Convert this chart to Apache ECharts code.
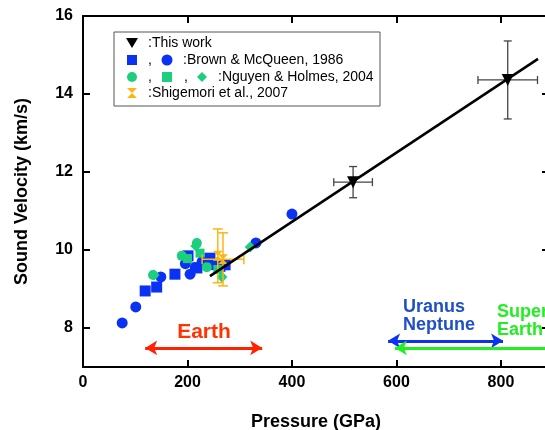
<!DOCTYPE html>
<html>
<head>
    <meta charset="utf-8"/>
    <title>Sound Velocity vs Pressure</title>
    <script src="https://cdn.jsdelivr.net/npm/echarts@6/dist/echarts.min.js"></script>
    <style>
        html, body { margin: 0; padding: 0; background: #fff; }
    </style>
</head>
<body>

<div id="main" style="width: 545px;height:430px;"></div>

<script>
    // data: [pressure GPa, velocity km/s]
    var thisWork = [[517, 11.74], [813, 14.36]];
    var thisWorkErrP = [37, 57];
    var thisWorkErrV = [0.4, 1.0];

    var bmSquares = [[119, 8.95], [141, 9.05], [176, 9.38], [201, 9.85], [218, 9.54], [243, 9.79], [262, 9.58], [272, 9.62]];
    var bmCircles = [[75, 8.13], [101, 8.54], [149, 9.31], [196, 9.65], [205, 9.38], [215, 9.55], [228, 9.7], [250, 9.62], [331, 10.18], [400, 10.92]];

    var nhCircles = [[134, 9.36], [189, 9.85], [218, 10.18], [237, 9.56]];
    var nhSquares = [[200, 9.78], [224, 9.92], [258, 9.5]];
    var nhDiamonds = [[136, 9.36], [216, 10.1], [266, 9.31], [320, 10.08]];

    var shigemori = [[258, 9.85], [268, 9.76]];
    var shigemoriErrP = [0, 40];
    var shigemoriErrV = [0.69, 0.68];

    var fitLine = [[243, 9.33], [871, 14.9]];

    var xTicks = [0, 200, 400, 600, 800];
    var yTicks = [8, 10, 12, 14, 16];

    // ranges of the planets (arrows)
    var earthRange = [[119, 7.49], [343, 7.49]];
    var iceRange = [[584, 7.67], [804, 7.67]];
    var superRange = [[597, 7.49], [892, 7.49]];

    var FONT = '"Liberation Sans", Arial, sans-serif';
    var BLUE = '#0a32f5';
    var GREEN = '#1ccf7e';
    var ORANGE = '#fdb515';
    var hourglass = 'path://M0,0 L10,0 L5,5 L10,10 L0,10 L5,5 Z';

    function errorBars(points, errP, errV, color, width, cap) {
        return {
            type: 'custom',
            silent: true,
            z: 3,
            data: points.map(function (p, i) { return [p[0], p[1], errP[i], errV[i]]; }),
            encode: { x: 0, y: 1 },
            renderItem: function (params, api) {
                var x = api.value(0), y = api.value(1), ex = api.value(2), ey = api.value(3);
                var style = { stroke: color, lineWidth: width };
                var kids = [];
                if (ey > 0) {
                    var t = api.coord([x, y + ey]), b = api.coord([x, y - ey]);
                    kids.push({ type: 'line', shape: { x1: t[0], y1: t[1], x2: b[0], y2: b[1] }, style: style });
                    kids.push({ type: 'line', shape: { x1: t[0] - cap, y1: t[1], x2: t[0] + cap, y2: t[1] }, style: style });
                    kids.push({ type: 'line', shape: { x1: b[0] - cap, y1: b[1], x2: b[0] + cap, y2: b[1] }, style: style });
                }
                if (ex > 0) {
                    var l = api.coord([x - ex, y]), r = api.coord([x + ex, y]);
                    kids.push({ type: 'line', shape: { x1: l[0], y1: l[1], x2: r[0], y2: r[1] }, style: style });
                    kids.push({ type: 'line', shape: { x1: l[0], y1: l[1] - cap, x2: l[0], y2: l[1] + cap }, style: style });
                    kids.push({ type: 'line', shape: { x1: r[0], y1: r[1] - cap, x2: r[0], y2: r[1] + cap }, style: style });
                }
                return { type: 'group', children: kids };
            }
        };
    }

    function rangeArrow(range, color, symbols) {
        return {
            type: 'line',
            data: [],
            silent: true,
            markLine: {
                silent: true,
                symbol: symbols,
                symbolSize: [11, 12],
                label: { show: false },
                lineStyle: { color: color, width: 3, type: 'solid' },
                data: [[{ coord: range[0] }, { coord: range[1] }]]
            }
        };
    }

    function scatter(data, symbol, size, color) {
        return {
            type: 'scatter', data: data, symbol: symbol, symbolSize: size,
            itemStyle: { color: color, opacity: 1 }, z: 2, silent: true
        };
    }

    var myChart = echarts.init(document.getElementById('main'));

    var axisBase = {
        axisLine: { show: true, onZero: false, lineStyle: { color: '#000', width: 2 } },
        axisTick: { show: true, inside: true, length: 7, lineStyle: { color: '#000', width: 2 } },
        splitLine: { show: false }
    };

    var legendRows = [43, 60, 77, 93];
    var legendText = [':This work', ':Brown & McQueen, 1986', ':Nguyen & Holmes, 2004', ':Shigemori et al., 2007'];
    var legendTextX = [148, 183, 218, 148];

    var graphics = [
        { type: 'rect', z: 100, shape: { x: 114, y: 32, width: 266, height: 74 }, style: { fill: '#fff', stroke: '#555', lineWidth: 1 } },
        // row 1
        { type: 'polygon', z: 101, shape: { points: [[126, 38], [138, 38], [132, 48]] }, style: { fill: '#000' } },
        // row 2
        { type: 'rect', z: 101, shape: { x: 127, y: 55, width: 10, height: 10 }, style: { fill: BLUE } },
        { type: 'text', z: 101, style: { text: ',', x: 148, y: 60, fill: '#000', font: '14px ' + FONT, verticalAlign: 'middle' } },
        { type: 'circle', z: 101, shape: { cx: 167, cy: 60, r: 5.5 }, style: { fill: BLUE } },
        // row 3
        { type: 'circle', z: 101, shape: { cx: 132, cy: 77, r: 5 }, style: { fill: GREEN } },
        { type: 'text', z: 101, style: { text: ',', x: 148, y: 77, fill: '#000', font: '14px ' + FONT, verticalAlign: 'middle' } },
        { type: 'rect', z: 101, shape: { x: 162, y: 72, width: 10, height: 10 }, style: { fill: GREEN } },
        { type: 'text', z: 101, style: { text: ',', x: 184, y: 77, fill: '#000', font: '14px ' + FONT, verticalAlign: 'middle' } },
        { type: 'polygon', z: 101, shape: { points: [[202, 72], [207, 77], [202, 82], [197, 77]] }, style: { fill: GREEN } },
        // row 4
        { type: 'polygon', z: 101, shape: { points: [[127, 88], [137, 88], [132, 93], [137, 98], [127, 98], [132, 93]] }, style: { fill: ORANGE } },
        // annotations
        { type: 'text', z: 101, style: { text: 'Earth', x: 204, y: 332, fill: '#ff3300', font: 'bold 21px ' + FONT, align: 'center', verticalAlign: 'middle' } },
        { type: 'text', z: 101, style: { text: 'Uranus\nNeptune', x: 403, y: 316, fill: '#2050c8', font: 'bold 18px ' + FONT, lineHeight: 18, verticalAlign: 'middle' } },
        { type: 'text', z: 101, style: { text: 'Super\nEarth', x: 497, y: 321, fill: '#22ee22', font: 'bold 18px ' + FONT, lineHeight: 18, verticalAlign: 'middle' } }
    ];
    legendRows.forEach(function (y, i) {
        graphics.push({ type: 'text', z: 101, style: { text: legendText[i], x: legendTextX[i], y: y, fill: '#000', font: '14px ' + FONT, verticalAlign: 'middle' } });
    });

    var option = {
        animation: false,
        backgroundColor: '#fff',
        grid: { left: 83, right: -4, top: 16, bottom: 63, outerBoundsMode: 'none', containLabel: false },
        xAxis: [
            Object.assign({}, axisBase, {
                type: 'value', position: 'bottom', min: 0, max: 892, interval: 200,
                name: 'Pressure (GPa)', nameLocation: 'middle', nameGap: 46,
                nameTextStyle: { color: '#000', fontWeight: 'bold', fontSize: 18, fontFamily: FONT },
                axisLabel: { color: '#000', fontWeight: 'bold', fontSize: 16, fontFamily: FONT, margin: 8, customValues: xTicks },
                axisTick: Object.assign({}, axisBase.axisTick, { customValues: xTicks })
            }),
            Object.assign({}, axisBase, {
                type: 'value', position: 'top', min: 0, max: 892, interval: 200,
                axisLabel: { show: false }
            })
        ],
        yAxis: [
            Object.assign({}, axisBase, {
                type: 'value', position: 'left', min: 7, max: 16,
                name: 'Sound Velocity (km/s)', nameLocation: 'middle', nameGap: 52,
                nameTextStyle: { color: '#000', fontWeight: 'bold', fontSize: 18, fontFamily: FONT },
                axisLabel: { color: '#000', fontWeight: 'bold', fontSize: 16, fontFamily: FONT, margin: 10, customValues: yTicks },
                axisTick: Object.assign({}, axisBase.axisTick, { customValues: yTicks })
            }),
            Object.assign({}, axisBase, {
                type: 'value', position: 'right', min: 7, max: 16,
                axisLabel: { show: false },
                axisTick: Object.assign({}, axisBase.axisTick, { customValues: yTicks })
            })
        ],
        graphic: graphics,
        series: [
            scatter(bmCircles, 'circle', 11, BLUE),
            scatter(bmSquares, 'rect', 11, BLUE),
            scatter(nhCircles, 'circle', 10, GREEN),
            scatter(nhSquares, 'rect', 9, GREEN),
            scatter(nhDiamonds, 'diamond', 11, GREEN),
            errorBars(shigemori, shigemoriErrP, shigemoriErrV, ORANGE, 1.5, 5),
            scatter(shigemori, hourglass, 10, ORANGE),
            {
                type: 'line', data: fitLine, symbol: 'none', silent: true, z: 4,
                lineStyle: { color: '#000', width: 2.5 }
            },
            errorBars(thisWork, thisWorkErrP, thisWorkErrV, '#444', 1.3, 4),
            Object.assign(scatter(thisWork, 'triangle', 12, '#000'), { symbolRotate: 180, z: 5 }),
            rangeArrow(earthRange, '#ff2200', ['arrow', 'arrow']),
            rangeArrow(iceRange, '#0a32f5', ['arrow', 'arrow']),
            rangeArrow(superRange, '#22ee22', ['arrow', 'none'])
        ]
    };

    myChart.setOption(option);
</script>

</body>
</html>
